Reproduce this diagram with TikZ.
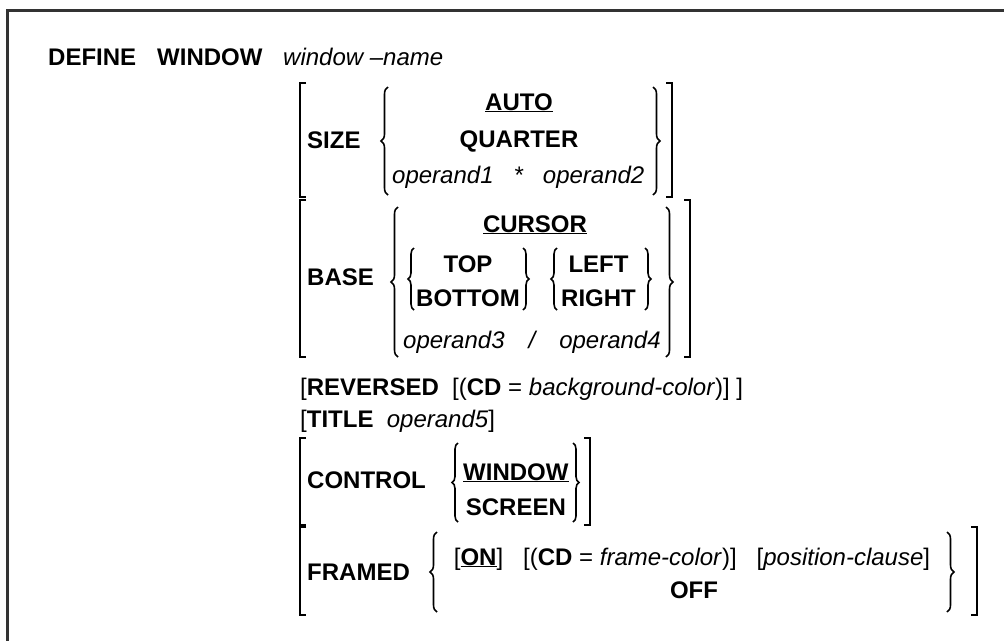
\documentclass[tikz,border=0pt]{standalone}
\usepackage{fontspec}
\setmainfont{Liberation Sans}
\usetikzlibrary{decorations.pathreplacing}

\newcommand{\synfont}{\fontsize{24}{28}\selectfont}

\tikzset{
  kw/.style={anchor=base west, inner sep=0pt, font=\synfont\bfseries},
  kwc/.style={anchor=base, inner sep=0pt, font=\synfont\bfseries},
  txt/.style={anchor=base west, inner sep=0pt, font=\synfont},
  txtc/.style={anchor=base, inner sep=0pt, font=\synfont},
  opnd/.style={anchor=base west, inner sep=0pt, font=\synfont\itshape},
  sqbr/.style={line width=2pt},
  crly/.style={line width=1.6pt, decorate, decoration={brace, amplitude=7pt}},
  crlysmall/.style={line width=1.6pt, decorate, decoration={brace, amplitude=6pt}},
  frameline/.style={line width=2.2pt, black!80},
}

\begin{document}
\begin{tikzpicture}[x=1pt, y=-1pt]
\useasboundingbox (0,0) rectangle (1004,641);
% frame
\draw[frameline] (1004,10.5) -- (7.5,10.5) -- (7.5,641);

% first line
\node[kw] (define) at (48,65) {DEFINE};
\node[kw] (window) at (157,65) {WINDOW};
\node[opnd] (wname) at (283,65) {window –name};

% SIZE
\draw[sqbr] (306,83) -- (300,83) -- (300,197) -- (306,197);
\node[kw] (size) at (307,148) {SIZE};
\draw[crly] (388,195) -- (388,87);
\node[kwc] (auto) at (519,110) {\underline{AUTO}};
\node[kwc] (quarter) at (519,147) {QUARTER};
\node[opnd] (op12) at (392,183) {operand1\hspace{20pt}*\hspace{20pt}operand2};
\draw[crly] (653,87) -- (653,195);
\draw[sqbr] (666,83) -- (672,83) -- (672,197) -- (666,197);

% BASE
\draw[sqbr] (306,200) -- (300,200) -- (300,357) -- (306,357);
\node[kw] (base) at (307,285) {BASE};
\draw[crly] (398,357) -- (398,207);
\node[kwc] (cursor) at (535,232) {\underline{CURSOR}};
\draw[crlysmall] (414,310) -- (414,248);
\node[kw] (bottom) at (416,306) {BOTTOM};
\node[kwc] (top) at ([yshift=34pt]bottom.base) {TOP};
\draw[crlysmall] (523,248) -- (523,310);
\draw[crlysmall] (557,310) -- (557,248);
\node[kw] (right) at (561,306) {RIGHT};
\node[kwc] (left) at ([yshift=34pt]right.base) {LEFT};
\draw[crlysmall] (645,248) -- (645,310);
\node[opnd] (op34) at (403,348) {operand3\hspace{24pt}/\hspace{24pt}operand4};
\draw[crly] (666,207) -- (666,357);
\draw[sqbr] (684,200) -- (690,200) -- (690,357) -- (684,357);

% REVERSED
\node[txt] (reversed) at (300,395) {[\textbf{REVERSED}\ \ [(\textbf{CD} = \textit{background-color})]\ ]};

% TITLE
\node[txt] (title) at (300,427) {[\textbf{TITLE}\ \ \textit{operand5}]};

% CONTROL
\draw[sqbr] (306,438) -- (300,438) -- (300,525) -- (306,525);
\node[kw] (control) at (307,488) {CONTROL};
\draw[crlysmall] (458,522) -- (458,443);
\node[kw] (cwindow) at (463,480) {\underline{WINDOW}};
\node[kwc] (screen) at ([yshift=-35pt]cwindow.base) {SCREEN};
\draw[crlysmall] (573,443) -- (573,522);
\draw[sqbr] (584,438) -- (590,438) -- (590,525) -- (584,525);

% FRAMED
\draw[sqbr] (306,527) -- (300,527) -- (300,615) -- (306,615);
\node[kw] (framed) at (307,580) {FRAMED};
\draw[crly] (437,612) -- (437,532);
\node[txtc] (onclause) at (692,565) {[\textbf{\underline{ON}}]\hspace{20pt}[(\textbf{CD} = \textit{frame-color})]\hspace{20pt}[\textit{position-clause}]};
\node[kwc] (off) at (694,598) {OFF};
\draw[crly] (947,532) -- (947,612);
\draw[sqbr] (971,527) -- (977,527) -- (977,615) -- (971,615);
\end{tikzpicture}
\end{document}
